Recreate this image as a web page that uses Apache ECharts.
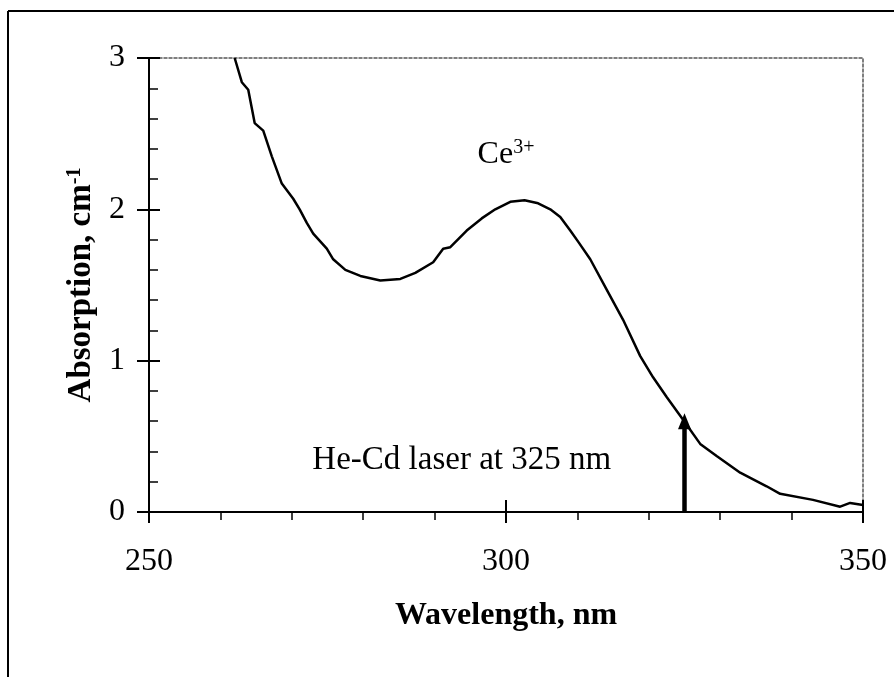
<!DOCTYPE html>
<html>
<head>
<meta charset="utf-8">
<script src="https://cdn.jsdelivr.net/npm/echarts@6/dist/echarts.min.js"></script>
<style>
html,body{margin:0;padding:0;background:#fff;}
#chart{width:894px;height:677px;}
</style>
</head>
<body>
<div id="chart"></div>
<script>
// Data
var wavelength = [262.0,263.0,263.9,264.8,266.0,267.2,268.6,270.2,271.1,272.1,273.0,274.9,275.8,277.5,279.6,282.4,285.2,287.3,289.8,291.2,292.2,294.5,296.6,298.5,300.6,302.6,304.5,306.2,307.6,309.0,310.2,311.8,314.1,316.4,318.8,320.6,322.5,324.8,327.2,329.5,332.8,336.5,338.4,343.0,346.8,348.2,350.0];
var absorption = [3.00,2.84,2.79,2.57,2.52,2.35,2.17,2.07,2.00,1.91,1.84,1.74,1.67,1.60,1.56,1.53,1.54,1.58,1.65,1.74,1.75,1.86,1.94,2.00,2.05,2.06,2.04,2.00,1.95,1.86,1.78,1.67,1.47,1.27,1.03,0.89,0.76,0.61,0.45,0.37,0.26,0.17,0.12,0.08,0.035,0.06,0.046];
var xTicks = [250, 300, 350];
var yTicks = [0, 1, 2, 3];
var laserWavelength = 325;
var laserArrowTop = 0.6;
var ionLabelPos = [300, 2.36];
var laserLabelPos = [293.8, 0.34];

var seriesData = wavelength.map(function (w, i) { return [w, absorption[i]]; });
var serif = '"Liberation Serif","Times New Roman",serif';

var xBase = { type: 'value', min: xTicks[0], max: xTicks[xTicks.length - 1], interval: xTicks[1] - xTicks[0] };
var yBase = { type: 'value', min: yTicks[0], max: yTicks[yTicks.length - 1], interval: yTicks[1] - yTicks[0] };
function ext(a, b) { var o = {}; for (var k in a) o[k] = a[k]; for (var k2 in b) o[k2] = b[k2]; return o; }

var chart = echarts.init(document.getElementById('chart'), null, { renderer: 'canvas' });
chart.setOption({
  backgroundColor: '#fff',
  animation: false,
  grid: { left: 149, right: 31, top: 58, bottom: 165 },
  xAxis: [
    ext(xBase, {
      position: 'bottom',
      name: 'Wavelength, nm', nameLocation: 'middle', nameGap: 88,
      nameTextStyle: { fontFamily: serif, fontWeight: 'bold', fontSize: 32, color: '#000' },
      axisLine: { onZero: false, lineStyle: { color: '#000', width: 2 } },
      axisTick: { show: true, inside: false, length: 11, lineStyle: { color: '#000', width: 2 } },
      minorTick: { show: true, splitNumber: 5, length: 8, lineStyle: { color: '#000', width: 1.5 } },
      axisLabel: { show: true, margin: 34, fontFamily: serif, fontSize: 32, color: '#000',
        formatter: function (v) { return xTicks.indexOf(v) >= 0 ? String(v) : ''; } },
      splitLine: { show: false }
    }),
    ext(xBase, {
      position: 'bottom',
      axisLine: { onZero: false, show: false },
      axisTick: { show: true, inside: true, length: 12, lineStyle: { color: '#000', width: 2 } },
      axisLabel: { show: false }, splitLine: { show: false }
    }),
    ext(xBase, {
      position: 'top',
      axisLine: { onZero: false, show: true, lineStyle: { color: '#555', width: 1.5, type: [3, 2] } },
      axisTick: { show: false }, axisLabel: { show: false }, splitLine: { show: false }
    })
  ],
  yAxis: [
    ext(yBase, {
      position: 'left',
      name: 'Absorption, cm{s|-1}', nameLocation: 'middle', nameGap: 50,
      nameTextStyle: { fontFamily: serif, fontWeight: 'bold', fontSize: 33, color: '#000',
        rich: { s: { fontFamily: serif, fontWeight: 'bold', fontSize: 20, color: '#000', verticalAlign: 'top', padding: [0, 0, 12, 0] } } },
      axisLine: { onZero: false, lineStyle: { color: '#000', width: 2 } },
      axisTick: { show: true, inside: true, length: 11, lineStyle: { color: '#000', width: 2 } },
      minorTick: { show: true, splitNumber: 5, length: 9, lineStyle: { color: '#000', width: 1.5 } },
      axisLabel: { show: true, margin: 24, fontFamily: serif, fontSize: 32, color: '#000' },
      splitLine: { show: false }
    }),
    ext(yBase, {
      position: 'left',
      axisLine: { onZero: false, show: false },
      axisTick: { show: true, inside: false, length: 12, lineStyle: { color: '#000', width: 2 } },
      axisLabel: { show: false }, splitLine: { show: false }
    }),
    ext(yBase, {
      position: 'right',
      axisLine: { onZero: false, show: true, lineStyle: { color: '#555', width: 1.5, type: [3, 2] } },
      axisTick: { show: false }, axisLabel: { show: false }, splitLine: { show: false }
    })
  ],
  series: [{
    type: 'line',
    xAxisIndex: 0, yAxisIndex: 0,
    data: seriesData,
    showSymbol: false, symbol: 'none',
    lineStyle: { color: '#000', width: 2.5 },
    clip: true,
    markLine: {
      silent: true,
      symbol: ['none', 'triangle'],
      symbolSize: [13, 16],
      label: { show: false },
      lineStyle: { color: '#000', width: 4.5, type: 'solid' },
      data: [[{ coord: [laserWavelength, 0] }, { coord: [laserWavelength, laserArrowTop] }]]
    },
    markPoint: {
      silent: true,
      symbol: 'circle', symbolSize: 0,
      itemStyle: { color: 'transparent' },
      data: [
        { coord: ionLabelPos, label: { show: true, position: 'inside', formatter: '{a|Ce}{s|3+}',
          rich: { a: { fontFamily: serif, fontSize: 32, color: '#000', lineHeight: 34 },
                  s: { fontFamily: serif, fontSize: 20, color: '#000', verticalAlign: 'top', padding: [0, 0, 14, 0] } } } },
        { coord: laserLabelPos, label: { show: true, position: 'inside', formatter: 'He-Cd laser at 325 nm',
          fontFamily: serif, fontSize: 33, color: '#000' } }
      ]
    }
  }],
  graphic: [
    { type: 'line', silent: true, shape: { x1: 8, y1: 11, x2: 894, y2: 11 }, style: { stroke: '#000', lineWidth: 2 } },
    { type: 'line', silent: true, shape: { x1: 8, y1: 11, x2: 8, y2: 677 }, style: { stroke: '#000', lineWidth: 2 } }
  ]
});
</script>
</body>
</html>
